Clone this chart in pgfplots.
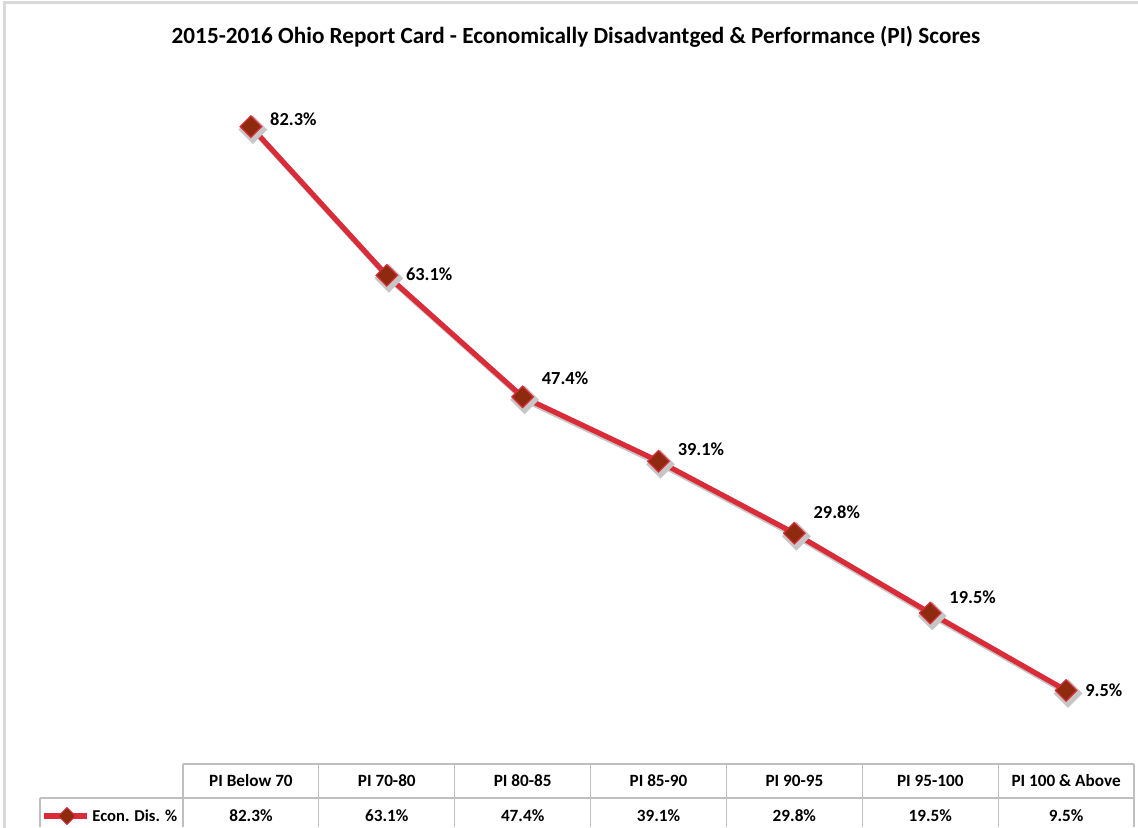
\documentclass[border=0pt]{standalone}
\usepackage{pgfplots}
\pgfplotsset{compat=1.18}
\usepackage{pgfplotstable}
\usepackage{fontspec}
\setmainfont{Carlito}

\definecolor{linered}{RGB}{218,43,56}
\definecolor{markbrown}{RGB}{142,42,14}
\definecolor{tablegray}{RGB}{191,191,191}
\definecolor{framegray}{RGB}{217,217,217}

% x = category index, y = Econ. Dis. %, dy = label lift (pt)
\pgfplotstableread{
x y dy
0 82.3 3.5
1 63.1 0.5
2 47.4 9.5
3 39.1 6
4 29.8 10.5
5 19.5 8
6 9.5 0
}\econdis

\begin{document}
\begin{tikzpicture}
\useasboundingbox (0,0) rectangle (569pt,413.5pt);
\draw[framegray, line width=1.5pt] (2pt,-5pt) rectangle (575pt,412pt);

\node[font=\fontsize{11.6}{14}\selectfont\bfseries] at (288pt,395pt)
  {2015-2016 Ohio Report Card - Economically Disadvantged \& Performance (PI) Scores};

\begin{axis}[
    at={(91.5pt,31.5pt)}, anchor=south west,
    scale only axis,
    width=475.5pt, height=348.5pt,
    xmin=-0.5, xmax=6.5,
    ymin=0, ymax=90,
    axis lines=none,
    clip=false,
    /pgf/number format/assume math mode=true
]
    % shadow
    \addplot[gray!45, line width=2.6pt, shift={(1pt,-1.5pt)},
        mark=square*, mark size=3.8pt,
        mark options={rotate=45, fill=gray!45, draw=gray!45}]
        table[x=x, y=y] {\econdis};
    \addplot[linered, line width=2.6pt,
        mark=square*, mark size=3.8pt,
        mark options={rotate=45, fill=markbrown, draw=linered, line width=0.6pt},
        visualization depends on={\thisrow{dy} \as \dy},
        nodes near coords={\pgfmathprintnumber[fixed,precision=1,fixed zerofill]{\pgfplotspointmeta}\%},
        every node near coord/.append style={anchor=west, xshift=6pt, yshift=\dy pt,
            font=\fontsize{9.2}{11}\selectfont\bfseries, text=black}]
        table[x=x, y=y] {\econdis};
\end{axis}

% data table
\draw[tablegray, line width=0.6pt] (91.5pt,31.5pt) -- (567pt,31.5pt);
\draw[tablegray, line width=0.6pt] (20pt,14.5pt) -- (567pt,14.5pt);
\draw[tablegray, line width=0.6pt] (20pt,14.5pt) -- (20pt,0pt);
\foreach \k in {0,...,7}
  \draw[tablegray, line width=0.6pt] ({91.5pt+67.93pt*\k},31.5pt) -- ({91.5pt+67.93pt*\k},0pt);
\foreach \lab [count=\i from 0] in {PI Below 70, PI 70-80, PI 80-85, PI 85-90, PI 90-95, PI 95-100, PI 100 \& Above}
  \node[font=\fontsize{8.6}{10}\selectfont\bfseries] at ({91.5pt+67.93pt*(\i+0.5)},23pt) {\lab};
\foreach \val [count=\i from 0] in {82.3\%, 63.1\%, 47.4\%, 39.1\%, 29.8\%, 19.5\%, 9.5\%}
  \node[font=\fontsize{8.6}{10}\selectfont\bfseries] at ({91.5pt+67.93pt*(\i+0.5)},5.5pt) {\val};
\draw[linered, line width=2.6pt] (22pt,5.5pt) -- (43.5pt,5.5pt);
\node[draw=linered, fill=markbrown, line width=0.5pt, rotate=45, minimum size=6pt, inner sep=0pt] at (33.5pt,5.5pt) {};
\node[anchor=west, inner sep=0pt, font=\fontsize{8.3}{10}\selectfont\bfseries] at (46pt,5.5pt) {Econ. Dis. \%};
\end{tikzpicture}
\end{document}
